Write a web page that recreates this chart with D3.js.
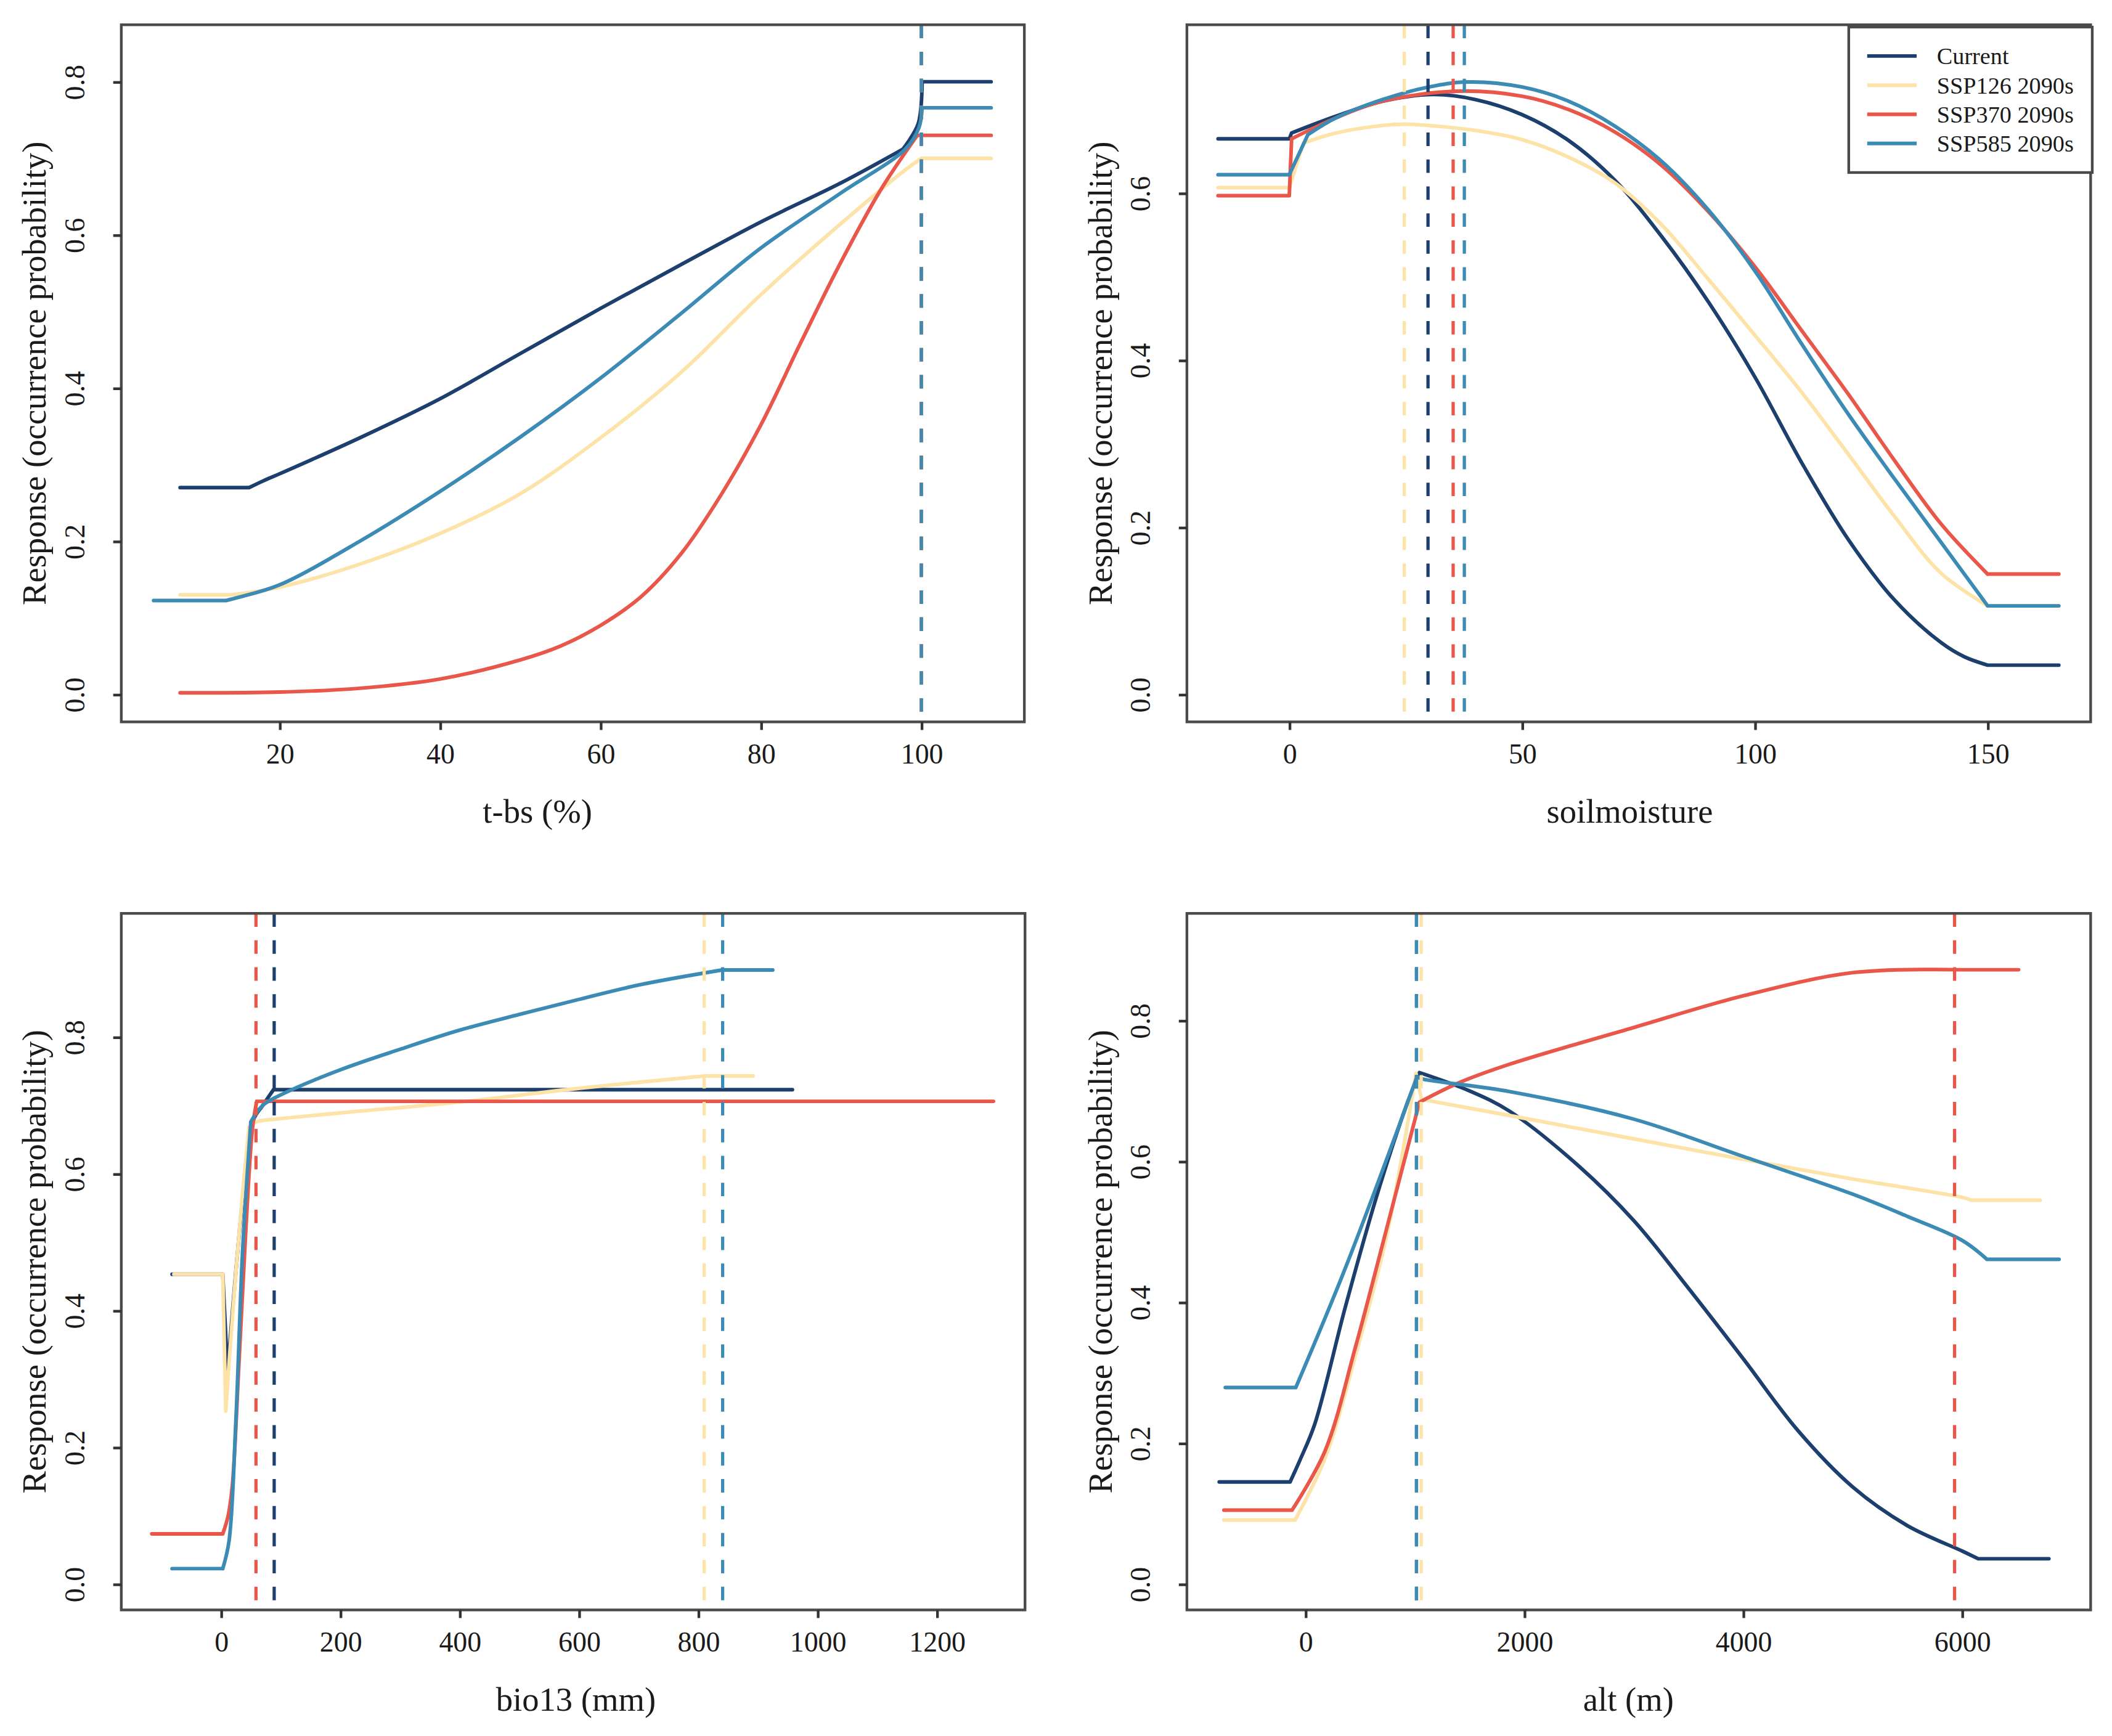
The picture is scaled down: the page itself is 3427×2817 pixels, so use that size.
<!DOCTYPE html>
<html><head><meta charset="utf-8">
<script src="https://cdn.jsdelivr.net/npm/d3@7"></script>
<style>html,body{margin:0;padding:0;background:#fff;}svg{display:block;}</style>
</head><body>
<svg id="chart" width="3427" height="2817" viewBox="0 0 1568 1289"></svg>
<script>
// ---------- DATA ----------
const seriesNames = ["Current", "SSP126 2090s", "SSP370 2090s", "SSP585 2090s"];
const seriesColors = ["#1d3f6e", "#fde3a7", "#e8574a", "#3c8bb5"];

// Panel 1: t-bs (%)
const tbsCurrent = [[7.6,0.27],[16.2,0.27],[18,0.279],[20,0.288],[30,0.335],[40,0.386],[50,0.445],[60,0.504],[70,0.561],[80,0.617],[90,0.668],[97.7,0.712],[99.6,0.745],[100.1,0.8],[108.7,0.8]];
const tbsSSP126 = [[7.6,0.13],[14,0.13],[20,0.14],[30,0.17],[40,0.21],[50,0.262],[60,0.335],[70,0.42],[80,0.522],[90,0.615],[98,0.685],[100,0.7],[108.7,0.7]];
const tbsSSP370 = [[7.6,0.002],[20,0.003],[30,0.008],[40,0.02],[50,0.045],[55,0.063],[60,0.09],[65,0.127],[70,0.183],[75,0.26],[80,0.352],[85,0.46],[90,0.565],[95,0.66],[99.5,0.73],[108.7,0.73]];
const tbsSSP585 = [[4.3,0.1225],[13.3,0.1225],[15,0.127],[20,0.143],[30,0.2],[40,0.265],[50,0.336],[60,0.413],[70,0.497],[80,0.583],[90,0.655],[98,0.712],[99.7,0.74],[100.1,0.766],[108.7,0.766]];
const tbsThresholds = [100, 100, 100, 100];
const tbsXTicks = [20, 40, 60, 80, 100];

// Panel 2: soilmoisture
const smCurrent = [[-15.3,0.665],[0,0.665],[0.5,0.672],[10,0.692],[20,0.71],[31,0.718],[40,0.712],[50,0.694],[60,0.663],[70,0.615],[80,0.548],[90,0.47],[100,0.38],[110,0.278],[120,0.186],[130,0.113],[140,0.062],[145,0.045],[150,0.035],[165.3,0.035]];
const smSSP126 = [[-15.3,0.6065],[0,0.6065],[3,0.66],[10,0.672],[20,0.681],[25,0.6825],[30,0.681],[40,0.675],[50,0.664],[60,0.643],[70,0.612],[80,0.562],[90,0.497],[100,0.43],[110,0.362],[120,0.288],[130,0.213],[140,0.145],[150,0.106],[165.3,0.106]];
const smSSP370 = [[-15.3,0.597],[0,0.597],[0.5,0.665],[10,0.69],[20,0.71],[36,0.722],[50,0.716],[60,0.7],[70,0.673],[80,0.633],[90,0.578],[100,0.512],[110,0.436],[120,0.36],[130,0.28],[140,0.204],[150,0.144],[165.3,0.144]];
const smSSP585 = [[-15.3,0.622],[0,0.622],[4,0.67],[10,0.69],[20,0.712],[30,0.727],[38,0.733],[50,0.727],[60,0.71],[70,0.68],[80,0.638],[90,0.58],[100,0.507],[110,0.42],[120,0.336],[130,0.258],[140,0.182],[150,0.106],[165.3,0.106]];
const smThresholds = [29.8, 24.7, 35.2, 37.6];
const smXTicks = [0, 50, 100, 150];

// Panel 3: bio13 (mm)
const bioCurrent = [[-82,0.453],[3,0.453],[11,0.31],[42,0.61],[55,0.68],[70,0.7],[88,0.723],[958,0.723]];
const bioSSP126 = [[-79,0.453],[3,0.453],[8,0.253],[20,0.4],[35,0.56],[47,0.668],[60,0.676],[93,0.68],[200,0.689],[400,0.705],[600,0.725],[810,0.743],[892,0.743]];
const bioSSP370 = [[-116,0.0735],[3,0.0735],[12,0.1],[19,0.144],[30,0.32],[42,0.523],[53,0.668],[60,0.706],[1295,0.706]];
const bioSSP585 = [[-82,0.0226],[3,0.0226],[13.5,0.063],[25,0.24],[36,0.483],[50,0.676],[70,0.7],[104,0.717],[200,0.752],[300,0.782],[400,0.81],[500,0.833],[600,0.855],[700,0.876],[840,0.898],[925,0.898]];
const bioThresholds = [89.2, 810, 58.7, 841];
const bioXTicks = [0, 200, 400, 600, 800, 1000, 1200];

// Panel 4: alt (m)
const altCurrent = [[-788,0.145],[-140,0.145],[-47,0.177],[85,0.227],[366,0.394],[648,0.549],[929,0.682],[1042,0.726],[1500,0.7],[1868,0.671],[2500,0.593],[3000,0.516],[3500,0.42],[4000,0.32],[4500,0.218],[5000,0.138],[5500,0.083],[6000,0.047],[6148,0.036],[6794,0.036]];
const altSSP126 = [[-745,0.091],[-95,0.091],[178,0.178],[460,0.326],[742,0.494],[1010,0.725],[1061,0.688],[1868,0.665],[3000,0.632],[4000,0.603],[5000,0.575],[6000,0.549],[6086,0.545],[6714,0.545]];
const altSSP370 = [[-745,0.105],[-122,0.105],[178,0.1885],[460,0.338],[742,0.5045],[1042,0.684],[1409,0.712],[1868,0.738],[3000,0.79],[4000,0.835],[5009,0.868],[6000,0.872],[6517,0.872]];
const altSSP585 = [[-732,0.279],[-88,0.279],[366,0.449],[1020,0.72],[1071,0.717],[1868,0.699],[3000,0.66],[4000,0.607],[5009,0.553],[5500,0.522],[6000,0.488],[6228,0.461],[6887,0.461]];
const altThresholds = [1015, 1058, 5932, 1015];
const altXTicks = [0, 2000, 4000, 6000];

const yTicks08 = [0, 0.2, 0.4, 0.6, 0.8];
const yTicks06 = [0, 0.2, 0.4, 0.6];
const yTitle = "Response (occurrence probability)";

// ---------- LAYOUT ----------
const panels = [
  {box:[90,760.5,18.4,536], xdom:[0.272,112.84], ydom:[-0.0359,0.8744], xticks:tbsXTicks, yticks:yTicks08,
   xlab:"t-bs (%)", xlabX:399, series:[tbsCurrent,tbsSSP126,tbsSSP370,tbsSSP585], vl:tbsThresholds, legend:false},
  {box:[881.2,1552.2,18.4,536], xdom:[-21.99,172.13], ydom:[-0.0329,0.8015], xticks:smXTicks, yticks:yTicks06,
   xlab:"soilmoisture", xlabX:1210, series:[smCurrent,smSSP126,smSSP370,smSSP585], vl:smThresholds, legend:true},
  {box:[90,761,678.2,1195.4], xdom:[-167.1,1347.9], ydom:[-0.0378,0.9808], xticks:bioXTicks, yticks:yTicks08,
   xlab:"bio13 (mm)", xlabX:427.5, series:[bioCurrent,bioSSP126,bioSSP370,bioSSP585], vl:bioThresholds, legend:false},
  {box:[881.2,1552.2,678.2,1195.4], xdom:[-1083,7175.4], ydom:[-0.0367,0.952], xticks:altXTicks, yticks:yTicks08,
   xlab:"alt (m)", xlabX:1209, series:[altCurrent,altSSP126,altSSP370,altSSP585], vl:altThresholds, legend:false}
];

const svg = d3.select("#chart");
svg.append("rect").attr("width",1568).attr("height",1289).attr("fill","#fff");
const FONT = "'Liberation Serif','Times New Roman',serif";
const fmtY = d3.format(".1f");

// split a series into runs at flat segments and sharp corners (in screen space)
function splitRuns(pts, xs, ys) {
  const P = pts.map(d => [xs(d[0]), ys(d[1])]);
  const out = []; let cur = [pts[0]];
  for (let i = 1; i < pts.length; i++) {
    cur.push(pts[i]);
    if (i < pts.length - 1) {
      const flatA = pts[i][1] === pts[i-1][1], flatB = pts[i+1][1] === pts[i][1];
      const a1 = Math.atan2(P[i][1]-P[i-1][1], P[i][0]-P[i-1][0]);
      const a2 = Math.atan2(P[i+1][1]-P[i][1], P[i+1][0]-P[i][0]);
      let da = Math.abs(a2 - a1) * 180 / Math.PI; if (da > 180) da = 360 - da;
      if (flatA || flatB || da > 30) { out.push(cur); cur = [pts[i]]; }
    }
  }
  out.push(cur);
  return out;
}

panels.forEach((p, i) => {
  const [x0,x1,y0,y1] = p.box;
  const xs = d3.scaleLinear().domain(p.xdom).range([x0,x1]);
  const ys = d3.scaleLinear().domain(p.ydom).range([y1,y0]);
  const g = svg.append("g");
  const cid = "clip"+i;
  g.append("clipPath").attr("id",cid).append("rect").attr("x",x0).attr("y",y0).attr("width",x1-x0).attr("height",y1-y0);
  const plot = g.append("g").attr("clip-path",`url(#${cid})`);

  const line = d3.line().x(d=>xs(d[0])).y(d=>ys(d[1])).curve(d3.curveCatmullRom.alpha(0.5));
  p.series.forEach((s, k) => {
    const d = splitRuns(s, xs, ys).map(r => line(r)).join("");
    plot.append("path").attr("d", d).attr("fill","none")
      .attr("stroke", seriesColors[k]).attr("stroke-width", 2.7)
      .attr("stroke-linejoin","round").attr("stroke-linecap","round");
  });
  p.vl.forEach((v, k) => {
    plot.append("line").attr("x1", xs(v)).attr("x2", xs(v)).attr("y1", y0).attr("y2", y1)
      .attr("stroke", seriesColors[k]).attr("stroke-width", 2.4).attr("stroke-dasharray","10,10");
  });

  // box
  g.append("rect").attr("x",x0).attr("y",y0).attr("width",x1-x0).attr("height",y1-y0)
    .attr("fill","none").attr("stroke","#4a4a4a").attr("stroke-width",2);

  // x axis
  const xa = g.append("g").attr("transform",`translate(0,${y1})`)
    .call(d3.axisBottom(xs).tickValues(p.xticks).tickSize(6).tickSizeOuter(0).tickPadding(10).tickFormat(d3.format("d")));
  xa.select(".domain").remove();
  xa.selectAll("line").attr("stroke","#333").attr("stroke-width",2);
  xa.selectAll("text").attr("font-family",FONT).attr("font-size",21).attr("fill","#1a1a1a");

  // y axis
  const ya = g.append("g").attr("transform",`translate(${x0},0)`)
    .call(d3.axisLeft(ys).tickValues(p.yticks).tickSize(6).tickSizeOuter(0).tickFormat(fmtY));
  ya.select(".domain").remove();
  ya.selectAll("line").attr("stroke","#333").attr("stroke-width",2);
  ya.selectAll("text").attr("font-family",FONT).attr("font-size",21).attr("fill","#1a1a1a")
    .attr("x",null).attr("dy",null).attr("text-anchor","middle")
    .attr("transform","translate(-27.5,0) rotate(-90)");

  // titles
  g.append("text").attr("x",p.xlabX).attr("y",y1+75).attr("text-anchor","middle")
    .attr("font-family",FONT).attr("font-size",25).attr("fill","#1a1a1a").text(p.xlab);
  g.append("text").attr("transform",`translate(${x0-56},${(y0+y1)/2}) rotate(-90)`)
    .attr("text-anchor","middle").attr("font-family",FONT).attr("font-size",25).attr("fill","#1a1a1a").text(yTitle);

  if (p.legend) {
    const lg = g.append("g");
    lg.append("rect").attr("x",1372.6).attr("y",20.1).attr("width",1553.4-1372.6).attr("height",128.1-20.1)
      .attr("fill","#fff").attr("stroke","#4a4a4a").attr("stroke-width",2);
    seriesNames.forEach((n, k) => {
      const yy = 41.6 + k*21.63;
      lg.append("line").attr("x1",1386.3).attr("x2",1423).attr("y1",yy).attr("y2",yy)
        .attr("stroke",seriesColors[k]).attr("stroke-width",2.7);
      lg.append("text").attr("x",1438).attr("y",yy).attr("dy","0.35em")
        .attr("font-family",FONT).attr("font-size",17.5).attr("fill","#1a1a1a").text(n);
    });
  }
});
</script>
</body></html>
